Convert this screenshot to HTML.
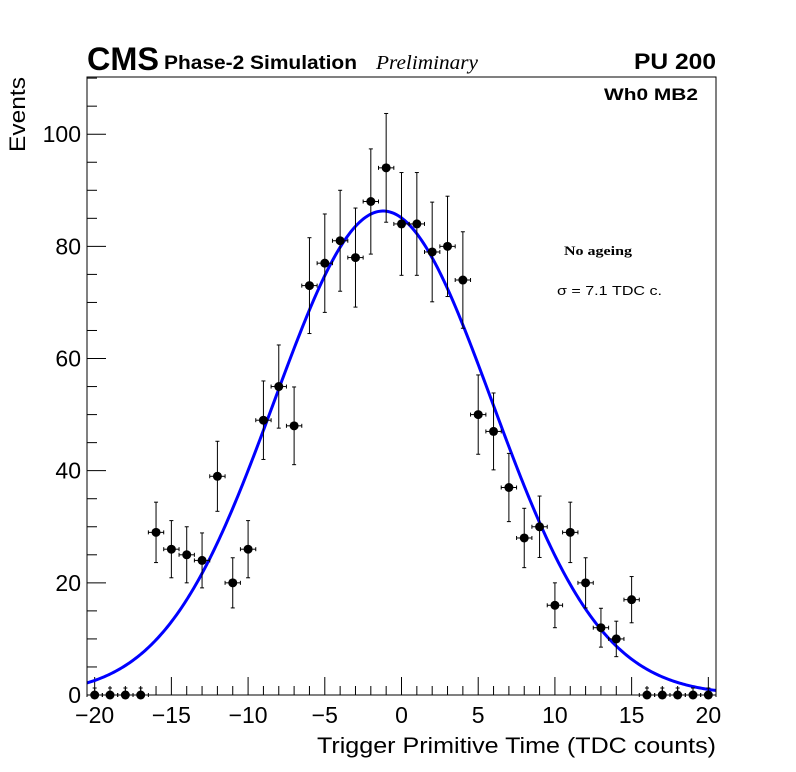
<!DOCTYPE html>
<html><head><meta charset="utf-8"><style>
body{margin:0;background:#fff;}
svg{display:block;font-family:"Liberation Sans",sans-serif;}
</style></head><body>
<svg id="chart" width="796" height="772" viewBox="0 0 796 772">
<rect x="0" y="0" width="796" height="772" fill="#fff"/>
<g id="axes"></g>
<g id="fit"></g>
<g id="pts"></g>
<rect x="87" y="77" width="629" height="618" fill="none" stroke="#000" stroke-width="1"/>
<text x="87" y="70" font-size="32" font-weight="bold" textLength="72" lengthAdjust="spacingAndGlyphs">CMS</text>
<text x="164" y="69" font-size="19" font-weight="bold" textLength="193" lengthAdjust="spacingAndGlyphs">Phase-2 Simulation</text>
<text x="376" y="69" font-size="20" font-style="italic" font-family="Liberation Serif, serif" textLength="102" lengthAdjust="spacingAndGlyphs">Preliminary</text>
<text x="634" y="69" font-size="22" font-weight="bold" textLength="82" lengthAdjust="spacingAndGlyphs">PU 200</text>
<text x="604" y="100" font-size="17" font-weight="bold" textLength="94" lengthAdjust="spacingAndGlyphs">Wh0 MB2</text>
<text x="564" y="255" font-size="13" font-weight="bold" font-family="Liberation Serif, serif" textLength="68" lengthAdjust="spacingAndGlyphs">No ageing</text>
<text x="557" y="295" font-size="13" textLength="105" lengthAdjust="spacingAndGlyphs">σ = 7.1 TDC c.</text>
<text x="317" y="753" font-size="22" textLength="399" lengthAdjust="spacingAndGlyphs">Trigger Primitive Time (TDC counts)</text>
<text transform="translate(25,152) rotate(-90)" font-size="22" textLength="75" lengthAdjust="spacingAndGlyphs">Events</text>
</svg>
<script>
const bins=[-20,-19,-18,-17,-16,-15,-14,-13,-12,-11,-10,-9,-8,-7,-6,-5,-4,-3,-2,-1,0,1,2,3,4,5,6,7,8,9,10,11,12,13,14,15,16,17,18,19,20];
const counts=[0,0,0,0,29,26,25,24,39,20,26,49,55,48,73,77,81,78,88,94,84,84,79,80,74,50,47,37,28,30,16,29,20,12,10,17,0,0,0,0,0];
const xTicks=[-20,-15,-10,-5,0,5,10,15,20];
const yTicks=[0,20,40,60,80,100];
const fitAmp=86.3, fitMean=-1.2, fitSigma=7.1;
const L=87,R=716,T=77,B=695,xmin=-20.5,xmax=20.5,ymin=0,ymax=110.2;
const X=v=>L+(v-xmin)/(xmax-xmin)*(R-L);
const Y=v=>B-(v-ymin)/(ymax-ymin)*(B-T);
const NS='http://www.w3.org/2000/svg';
function mk(tag,attrs,parent){const e=document.createElementNS(NS,tag);for(const k in attrs)e.setAttribute(k,attrs[k]);parent.appendChild(e);return e;}
const ax=document.getElementById('axes');
for(let v=-20;v<=20;v++){
  const major=v%5===0;
  const t=mk('line',{x1:X(v),x2:X(v),y1:B,y2:B-(major?18:9),stroke:'#000','stroke-width':1},ax);
  
  
}
xTicks.forEach(v=>{
  const t=mk('text',{x:X(v),y:723,'font-size':23,'text-anchor':'middle'},ax);
  t.textContent=(v<0?'\u2212':'')+Math.abs(v);
  
  
});
for(let v=0;v<=110;v+=5){
  const major=v%20===0;
  const t=mk('line',{x1:L,x2:L+(major?19:10),y1:Y(v),y2:Y(v),stroke:'#000','stroke-width':1},ax);
  
  
}
yTicks.forEach(v=>{
  const t=mk('text',{x:81,y:Y(v)+8,'font-size':23,'text-anchor':'end'},ax);
  t.textContent=v;
  
  
});
const fg=document.getElementById('fit');
let d='';
for(let i=0;i<=400;i++){const x=xmin+(xmax-xmin)*i/400;const y=fitAmp*Math.exp(-Math.pow(x-fitMean,2)/(2*fitSigma*fitSigma));d+=(i?'L':'M')+X(x).toFixed(2)+','+Y(y).toFixed(2);}
const fp=mk('path',{d:d,fill:'none',stroke:'#0000ff','stroke-width':3},fg);


const pg=document.getElementById('pts');
bins.forEach((b,i)=>{
  const c=counts[i];const g=mk('g',{},pg);
  
  
  const cx=X(b),cy=Y(c),hw=(X(1)-X(0))/2;
  mk('line',{x1:cx-hw,x2:cx+hw,y1:cy,y2:cy,stroke:'#000','stroke-width':1},g);
  mk('line',{x1:cx-hw,x2:cx-hw,y1:cy-2,y2:cy+2,stroke:'#000','stroke-width':1},g);
  mk('line',{x1:cx+hw,x2:cx+hw,y1:cy-2,y2:cy+2,stroke:'#000','stroke-width':1},g);
  if(c>0){const e=Math.sqrt(c);
    mk('line',{x1:cx,x2:cx,y1:Y(c+e),y2:Y(c-e),stroke:'#000','stroke-width':1},g);
    mk('line',{x1:cx-2,x2:cx+2,y1:Y(c+e),y2:Y(c+e),stroke:'#000','stroke-width':1},g);
    mk('line',{x1:cx-2,x2:cx+2,y1:Y(c-e),y2:Y(c-e),stroke:'#000','stroke-width':1},g);
  } else {
    mk('line',{x1:cx,x2:cx,y1:cy-7,y2:cy,stroke:'#000','stroke-width':1},g);
    mk('line',{x1:cx-2,x2:cx+2,y1:cy-7,y2:cy-7,stroke:'#000','stroke-width':1},g);
  }
  mk('circle',{cx:cx,cy:cy,r:4.5,fill:'#000'},g);
});
</script>
</body></html>
